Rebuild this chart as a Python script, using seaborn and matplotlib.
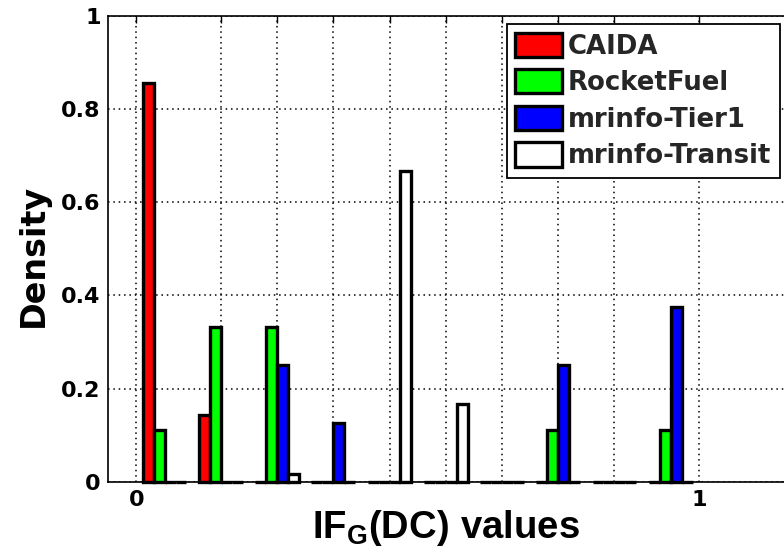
import matplotlib
matplotlib.use("Agg")
import matplotlib.pyplot as plt
from matplotlib.patches import Patch
import seaborn as sns
import pandas as pd

# Histogram bin centres of IF_G(DC) and per-topology densities
bin_centers = [0.05, 0.15, 0.25, 0.35, 0.45, 0.55, 0.65, 0.75, 0.85, 0.95]
caida = [0.857, 0.143, 0.0, 0.0, 0.0, 0.0, 0.0, 0.0, 0.0, 0.0]
rocketfuel = [0.111, 0.333, 0.333, 0.0, 0.0, 0.0, 0.0, 0.111, 0.0, 0.111]
tier1 = [0.0, 0.0, 0.25, 0.125, 0.0, 0.0, 0.0, 0.25, 0.0, 0.375]
transit = [0.0, 0.0, 0.0167, 0.0, 0.667, 0.167, 0.0, 0.0, 0.0, 0.0]

series_names = ["CAIDA", "RocketFuel", "mrinfo-Tier1", "mrinfo-Transit"]
series_colors = ["#ff0000", "#00ff00", "#0000ff", "#ffffff"]

x_ticks = [0, 0.15, 0.25, 0.35, 0.45, 0.55, 0.65, 0.75, 0.85, 1]
x_ticklabels = ["0", "", "", "", "", "", "", "", "", "1"]
y_ticks = [0, 0.2, 0.4, 0.6, 0.8, 1]
y_ticklabels = ["0", "0.2", "0.4", "0.6", "0.8", "1"]

df = pd.DataFrame({
    "x": bin_centers * 4,
    "density": caida + rocketfuel + tier1 + transit,
    "source": [n for n in series_names for _ in bin_centers],
})

sns.set_theme(style="white")
plt.rcParams["font.family"] = ["DejaVu Sans"]
plt.rcParams["mathtext.fontset"] = "custom"
plt.rcParams["mathtext.rm"] = "Liberation Sans:bold"
plt.rcParams["mathtext.bf"] = "Liberation Sans:bold"
plt.rcParams["mathtext.it"] = "Liberation Sans:bold"

W, H = 784, 559
fig = plt.figure(figsize=(W / 100, H / 100), dpi=100)
ax_left, ax_bottom, ax_top = 108.3, 481.7, 16.0
ax_w = 703.0
ax = fig.add_axes([ax_left / W, (H - ax_bottom) / H, ax_w / W, (ax_bottom - ax_top) / H])

palette = dict(zip(series_names, series_colors))
sns.barplot(
    data=df, x="x", y="density", hue="source", hue_order=series_names,
    palette=palette, native_scale=True, width=0.78, errorbar=None,
    edgecolor="black", linewidth=2.4, saturation=1, legend=False, ax=ax,
)
# let empty bins show their outline along the baseline
for bar in ax.patches:
    bar.set_clip_on(False)
    bar.set_zorder(3)

ax.set_xlim(-0.05, 1.2)
ax.set_ylim(0, 1)
ax.set_xticks(x_ticks)
ax.set_xticklabels(x_ticklabels)
ax.set_yticks(y_ticks)
ax.set_yticklabels(y_ticklabels)

ax.set_axisbelow(True)
ax.grid(True, color="black", linestyle=(0, (1, 2.5)), linewidth=1.1)
for s in ax.spines.values():
    s.set_color("black")
    s.set_linewidth(1.2)

ax.tick_params(direction="in", length=5, width=1.0, top=True, right=True,
               colors="black", labelsize=16)
ax.tick_params(axis="y", pad=5.5)
ax.tick_params(axis="x", pad=6)
for lab in ax.get_xticklabels() + ax.get_yticklabels():
    lab.set_fontweight("bold")

ax.set_xlabel(r"$\mathbf{IF_G(DC)\ values}$", fontsize=27.5, color="black")
ax.xaxis.set_label_coords((445.5 - ax_left) / ax_w, -(508 - ax_bottom) / (ax_bottom - ax_top))
ax.set_ylabel("Density", fontsize=24, fontweight="bold", color="black")
ax.yaxis.set_label_coords(-(ax_left - 50) / ax_w, (ax_bottom - 255.5) / (ax_bottom - ax_top))

handles = [Patch(facecolor=c, edgecolor="black", linewidth=2.4) for c in series_colors]
leg = ax.legend(
    handles, series_names, loc="upper left",
    bbox_to_anchor=(506.7 / W, 1 - 24.3 / H), bbox_transform=fig.transFigure,
    borderaxespad=0, prop=dict(family="DejaVu Sans", weight="bold", size=18.7),
    handlelength=1.8, handleheight=1.05, handletextpad=0.23, labelspacing=0.37,
    borderpad=0.33, fancybox=False, framealpha=1, edgecolor="black",
)
leg.get_frame().set_linewidth(1.3)
leg.set_zorder(5)

fig.savefig("out.png", dpi=100)
